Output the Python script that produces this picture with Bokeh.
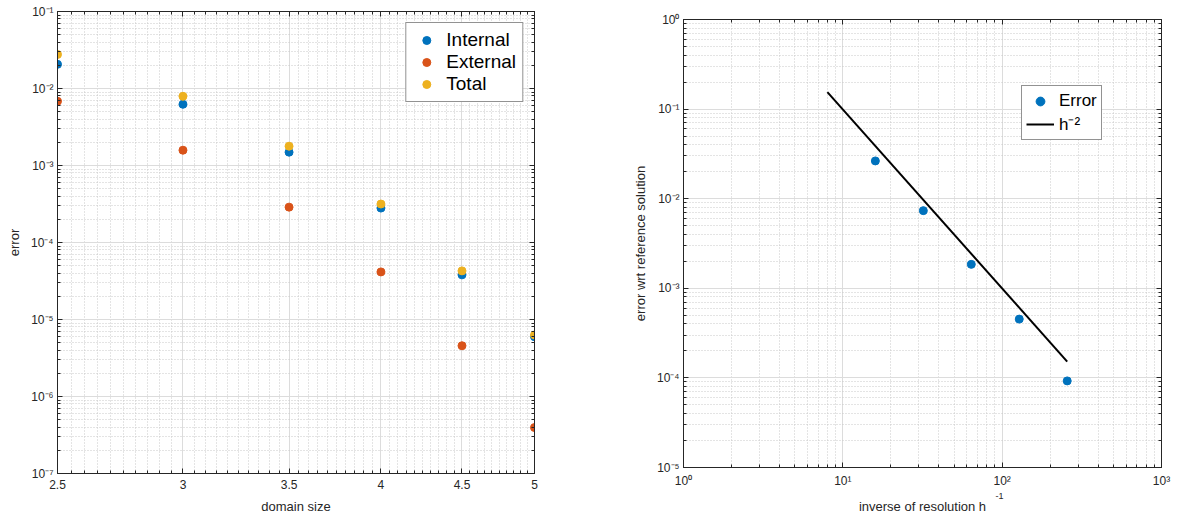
import numpy as np
from bokeh.plotting import figure
from bokeh.layouts import row, column
from bokeh.models import FixedTicker, CustomJSTickFormatter, LogAxis, Title
from bokeh.embed import file_html
from bokeh.resources import INLINE

# ---------------- data ----------------
# left panel
domain_size = [2.5, 3.0, 3.5, 4.0, 4.5, 5.0]
err_internal = [0.0206, 0.00624, 0.00149, 0.00028, 3.8e-5, 5.97e-6]
err_external = [0.00683, 0.00158, 0.000288, 4.15e-5, 4.56e-6, 3.95e-7]
err_total = [0.0277, 0.00792, 0.00178, 0.000316, 4.28e-5, 6.3e-6]
left_xticks = [2.5, 3.0, 3.5, 4.0, 4.5, 5.0]
left_xlabels = ["2.5", "3", "3.5", "4", "4.5", "5"]
left_series = ["Internal", "External", "Total"]

# right panel
inv_h = [16, 32, 64, 128, 256]
err_ref = [0.0264, 0.00736, 0.00185, 0.000453, 9.26e-5]
slope_x = [8, 256]
slope_y = [0.155, 1.52e-4]
right_series = ["Error", "h\u207b\u00b2"]

# ---------------- styling ----------------
FONT = "Liberation Sans"
AX = "#262626"
BLUE, ORANGE, YELLOW = "#0072BD", "#D95319", "#EDB120"

sup_fmt_code = """
const m = {"-":"\u207b","0":"\u2070","1":"\u00b9","2":"\u00b2","3":"\u00b3","4":"\u2074",
           "5":"\u2075","6":"\u2076","7":"\u2077","8":"\u2078","9":"\u2079"};
const e = Math.round(Math.log10(tick));
return "10" + String(e).split("").map(c => m[c]).join("");
"""


def decade_ticks(lo, hi):
    major = [10.0 ** k for k in range(lo, hi + 1)]
    minor = [m * 10.0 ** k for k in range(lo, hi) for m in range(2, 10)]
    return major, minor


def style_axes(p, xticker, yticker, xfmt, yfmt, xlabel, ylabel, xstand, ystand):
    p.title.visible = False
    p.background_fill_color = "white"
    p.border_fill_color = "white"
    p.outline_line_color = AX
    p.outline_line_width = 1
    p.xaxis.ticker = xticker
    p.yaxis.ticker = yticker
    p.xgrid.ticker = xticker
    p.ygrid.ticker = yticker
    p.xaxis.formatter = xfmt
    p.yaxis.formatter = yfmt
    if xlabel is not None:
        p.xaxis.axis_label = xlabel
    p.yaxis.axis_label = ylabel
    p.xaxis.axis_label_standoff = xstand
    p.yaxis.axis_label_standoff = ystand
    for ax in p.axis:
        ax.axis_line_color = AX
        ax.major_tick_line_color = AX
        ax.minor_tick_line_color = AX
        ax.major_tick_in = 5
        ax.major_tick_out = 0
        ax.minor_tick_in = 3
        ax.minor_tick_out = 0
        ax.major_label_standoff = 4
        ax.major_label_text_font = FONT
        ax.major_label_text_font_size = "12px"
        ax.major_label_text_color = AX
        ax.axis_label_text_font = FONT
        ax.axis_label_text_font_size = "13px"
        ax.axis_label_text_font_style = "normal"
        ax.axis_label_text_color = AX
    p.xaxis.major_label_standoff = 6
    for g in (p.xgrid, p.ygrid):
        g.grid_line_color = "#dcdcdc"
        g.minor_grid_line_color = "#c8c8c8"
        g.minor_grid_line_dash = "1 2"
    # box ticks on top and right (labels invisible)
    top = LogAxis(ticker=xticker)
    right = LogAxis(ticker=yticker)
    for ax in (top, right):
        ax.axis_line_color = AX
        ax.major_tick_line_color = AX
        ax.minor_tick_line_color = AX
        ax.major_tick_in = 5
        ax.major_tick_out = 0
        ax.minor_tick_in = 3
        ax.minor_tick_out = 0
        ax.major_label_text_font_size = "1px"
        ax.major_label_text_alpha = 0
        ax.major_label_standoff = 0
    p.add_layout(top, "above")
    p.add_layout(right, "right")


def style_legend(lg, fsize, glyph_w, item_h, pad, standoff, spacing):
    lg.border_line_color = AX
    lg.border_line_width = 1
    lg.background_fill_color = "white"
    lg.background_fill_alpha = 1
    lg.label_text_font = FONT
    lg.label_text_font_size = fsize
    lg.label_text_color = "black"
    lg.glyph_width = glyph_w
    lg.glyph_height = item_h
    lg.label_height = item_h
    lg.padding = pad
    lg.label_standoff = standoff
    lg.spacing = spacing


# ---------------- left panel ----------------
p1 = figure(width=600, height=516, x_axis_type="log", y_axis_type="log",
            x_range=(2.5, 5), y_range=(1e-7, 1e-1),
            output_backend="svg", toolbar_location=None,
            min_border_left=57, min_border_right=66, min_border_top=11, min_border_bottom=42)

ymaj1, ymin1 = decade_ticks(-7, -1)
xmin1 = [round(v, 2) for v in np.arange(2.55, 5.0, 0.05) if abs(v * 2 - round(v * 2)) > 1e-6]
xt1 = FixedTicker(ticks=left_xticks, minor_ticks=xmin1)
yt1 = FixedTicker(ticks=ymaj1, minor_ticks=ymin1)
xfmt1 = CustomJSTickFormatter(args=dict(tk=left_xticks, lbl=left_xlabels), code="""
for (let i = 0; i < tk.length; i++) { if (Math.abs(tk[i] - tick) < 1e-9) return lbl[i]; }
return " ";
""")
style_axes(p1, xt1, yt1, xfmt1, CustomJSTickFormatter(code=sup_fmt_code),
           "domain size", "error", 7, 6)

for vals, col, name in zip([err_internal, err_external, err_total], [BLUE, ORANGE, YELLOW], left_series):
    p1.scatter(domain_size, vals, marker="circle", size=8, fill_color=col, line_color=col,
               legend_label=name)

lg1 = p1.legend[0]
lg1.location = "top_right"
lg1.margin = 11
style_legend(lg1, "19px", 28, 20, 6, 6, 0)

# ---------------- right panel ----------------
p2 = figure(width=578, height=516, x_axis_type="log", y_axis_type="log",
            x_range=(1, 1000), y_range=(1e-5, 1),
            output_backend="svg", toolbar_location=None,
            min_border_left=83, min_border_right=17, min_border_top=19, min_border_bottom=47)

xmaj2, xmin2 = decade_ticks(0, 3)
ymaj2, ymin2 = decade_ticks(-5, 0)
xt2 = FixedTicker(ticks=xmaj2, minor_ticks=xmin2)
yt2 = FixedTicker(ticks=ymaj2, minor_ticks=ymin2)
style_axes(p2, xt2, yt2, CustomJSTickFormatter(code=sup_fmt_code), CustomJSTickFormatter(code=sup_fmt_code),
           None, "error wrt reference solution", 0, 6)

# "-1" exponent of the x label, as MATLAB drew it (between tick labels and label)
exp_title = Title(text="-1", align="left", offset=312, standoff=0,
                  text_font=FONT, text_font_size="9px", text_font_style="normal",
                  text_color=AX)
p2.add_layout(exp_title, "below")

# x label carried by a tick-less axis below the exponent
xlab_axis = LogAxis(ticker=xt2, axis_label="inverse of resolution h")
xlab_axis.axis_line_color = None
xlab_axis.major_tick_line_color = None
xlab_axis.minor_tick_line_color = None
xlab_axis.major_tick_in = 0
xlab_axis.major_tick_out = 0
xlab_axis.minor_tick_in = 0
xlab_axis.minor_tick_out = 0
xlab_axis.major_label_text_font_size = "1px"
xlab_axis.major_label_text_alpha = 0
xlab_axis.major_label_standoff = 0
xlab_axis.axis_label_standoff = 0
xlab_axis.axis_label_text_font = FONT
xlab_axis.axis_label_text_font_size = "13px"
xlab_axis.axis_label_text_font_style = "normal"
xlab_axis.axis_label_text_color = AX
p2.add_layout(xlab_axis, "below")

p2.scatter(inv_h, err_ref, marker="circle", size=8, fill_color=BLUE, line_color=BLUE,
           legend_label=right_series[0])
p2.line(slope_x, slope_y, line_width=2, line_color="black", legend_label=right_series[1])

lg2 = p2.legend[0]
lg2.location = (338, 327)
lg2.margin = 0
style_legend(lg2, "17px", 28, 22, 4, 5, 0)

layout = row(column(p1), column(p2))
open("out.html", "w").write(file_html(layout, INLINE))
